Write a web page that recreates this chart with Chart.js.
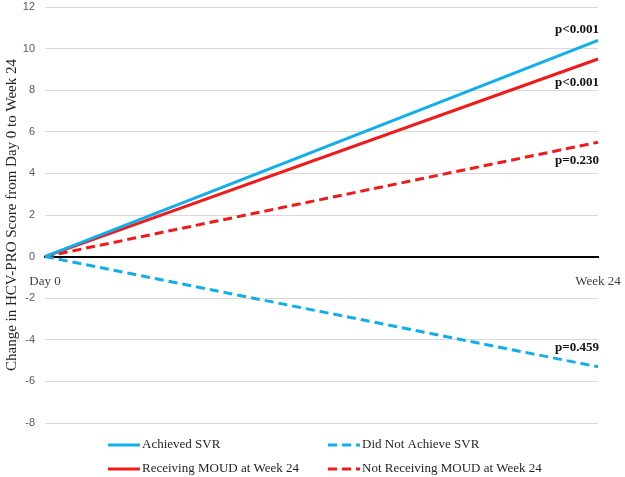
<!DOCTYPE html>
<html>
<head>
<meta charset="utf-8">
<script src="https://cdn.jsdelivr.net/npm/chart.js@4.4.0/dist/chart.umd.min.js"></script>
<style>
  html, body { margin: 0; padding: 0; background: #fff; }
  #wrap { width: 625px; height: 477px; }
</style>
</head>
<body>
<div id="wrap"><canvas id="hcv"></canvas></div>
<script>
// time points
const timePoints = ['Day 0', 'Week 24'];

// change in HCV-PRO score per group
const achievedSVR = [0, 10.4];
const notAchievedSVR = [0, -5.3];
const receivingMOUD = [0, 9.5];
const notReceivingMOUD = [0, 5.5];

const seriesNames = ['Achieved SVR', 'Did Not Achieve SVR', 'Receiving MOUD at Week 24', 'Not Receiving MOUD at Week 24'];
const pValues = ['p<0.001', 'p=0.459', 'p<0.001', 'p=0.230'];

const yTicks = [-8, -6, -4, -2, 0, 2, 4, 6, 8, 10, 12];

const BLUE = '#12AEEA';
const RED = '#F01A1A';

// p-value labels next to the line ends
const pLabelPlugin = {
  id: 'pLabels',
  afterDatasetsDraw(chart) {
    const ctx = chart.ctx;
    const offs = [-11, -19, 24, 18];
    ctx.save();
    ctx.font = 'bold 13px "Liberation Serif", "Times New Roman", serif';
    ctx.fillStyle = '#111';
    ctx.textAlign = 'right';
    ctx.textBaseline = 'middle';
    chart.data.datasets.forEach((ds, i) => {
      const meta = chart.getDatasetMeta(i);
      const last = meta.data[meta.data.length - 1];
      ctx.fillText(pValues[i], chart.chartArea.right + 1, last.y + offs[i]);
    });
    ctx.restore();
  }
};

// two column legend under the plot
const gridLegend = {
  id: 'gridLegend',
  afterDraw(chart) {
    const ctx = chart.ctx;
    const cols = [108, 328];
    const rows = [chart.chartArea.bottom + 22, chart.chartArea.bottom + 46];
    ctx.save();
    ctx.font = '13px "Liberation Serif", "Times New Roman", serif';
    ctx.textBaseline = 'middle';
    ctx.textAlign = 'left';
    chart.data.datasets.forEach((ds, i) => {
      const x = cols[i % 2];
      const y = rows[Math.floor(i / 2)];
      ctx.strokeStyle = ds.borderColor;
      ctx.lineWidth = 3;
      ctx.setLineDash(ds.borderDash || []);
      ctx.beginPath();
      ctx.moveTo(x, y);
      ctx.lineTo(x + 32, y);
      ctx.stroke();
      ctx.setLineDash([]);
      ctx.fillStyle = '#262626';
      ctx.fillText(ds.label, x + 34, y);
    });
    ctx.restore();
  }
};

function noPad(scale) {
  scale.paddingTop = 0;
  scale.paddingBottom = 0;
  scale.paddingLeft = 0;
  scale.paddingRight = 0;
}

new Chart(document.getElementById('hcv'), {
  type: 'line',
  data: {
    labels: timePoints,
    datasets: [
      { label: seriesNames[0], data: achievedSVR, borderColor: BLUE, borderWidth: 3 },
      { label: seriesNames[1], data: notAchievedSVR, borderColor: BLUE, borderWidth: 3, borderDash: [9, 5] },
      { label: seriesNames[2], data: receivingMOUD, borderColor: RED, borderWidth: 3 },
      { label: seriesNames[3], data: notReceivingMOUD, borderColor: RED, borderWidth: 3, borderDash: [9, 5] }
    ]
  },
  options: {
    responsive: true,
    maintainAspectRatio: false,
    animation: false,
    elements: { point: { radius: 0 }, line: { tension: 0 } },
    layout: { padding: { top: 7, right: 27, bottom: 54, left: 0 } },
    plugins: {
      legend: { display: false },
      tooltip: { enabled: false }
    },
    scales: {
      x: {
        type: 'category',
        offset: false,
        position: { y: 0 },
        afterFit: noPad,
        grid: { display: false },
        border: { display: true, color: '#000', width: 2 },
        ticks: {
          padding: 9,
          color: '#404040',
          font: { family: '"Liberation Serif", "Times New Roman", serif', size: 13 },
          maxRotation: 0
        }
      },
      y: {
        min: -8,
        max: 12,
        afterFit(scale) { scale.width = 45; noPad(scale); },
        afterBuildTicks(scale) { scale.ticks = yTicks.map(v => ({ value: v })); },
        grid: { color: '#d9d9d9', lineWidth: 1, drawTicks: false },
        border: { display: false },
        ticks: {
          padding: 10,
          color: '#595959',
          font: { family: '"Liberation Sans", Arial, sans-serif', size: 11 }
        },
        title: {
          display: true,
          text: 'Change in HCV-PRO Score from Day 0 to Week 24',
          color: '#262626',
          padding: { top: 3, bottom: 0 },
          font: { family: '"Liberation Serif", "Times New Roman", serif', size: 15 }
        }
      }
    }
  },
  plugins: [pLabelPlugin, gridLegend]
});
</script>
</body>
</html>
